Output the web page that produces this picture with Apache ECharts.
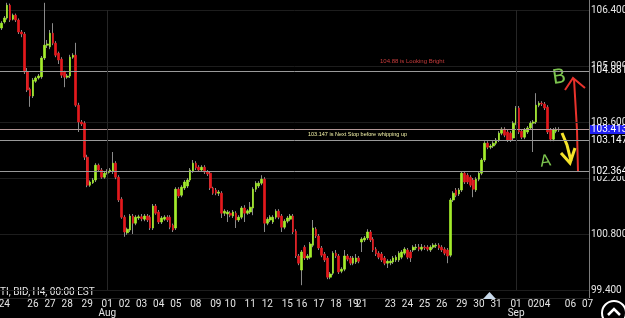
<!DOCTYPE html>
<html>
<head>
<meta charset="utf-8">
<title>H4 candles</title>
<script src="https://cdn.jsdelivr.net/npm/echarts@6/dist/echarts.min.js"></script>
<style>
html, body { margin: 0; padding: 0; background: #000; }
#chart { width: 625px; height: 318px; }
</style>
</head>
<body>
<div id="chart"></div>
<script>
// H4 bars, oldest first
var opens = [
	105.95,106.10,106.20,106.52,106.17,106.27,106.15,105.85,105.80,104.85,
	104.42,104.25,104.62,104.70,104.73,105.20,105.52,105.48,105.82,105.57,
	105.32,105.17,104.85,104.72,104.75,105.22,105.27,104.02,103.60,103.57,
	102.72,102.02,102.08,102.15,102.52,102.40,102.22,102.32,102.37,102.37,
	102.57,102.22,101.67,101.22,100.83,100.90,101.25,101.07,101.20,101.23,
	101.17,101.25,101.22,100.95,101.50,101.35,101.10,101.17,101.22,101.22,
	101.02,100.95,101.92,101.77,101.95,102.00,102.15,102.37,102.57,102.47,
	102.40,102.47,102.35,102.32,101.95,101.90,101.82,101.82,101.32,101.30,
	101.32,101.25,101.32,101.15,101.22,101.45,101.32,101.35,101.45,101.92,
	102.00,102.07,102.17,101.07,101.15,101.10,101.22,101.37,101.25,100.97,
	101.12,101.17,101.25,100.87,100.25,99.90,100.47,100.20,100.22,100.52,
	100.92,100.75,100.45,100.30,100.20,99.72,99.82,100.32,100.25,99.87,
	99.92,100.25,100.20,100.07,100.10,100.20,100.60,100.65,100.70,100.85,
	100.67,100.42,100.32,100.30,100.20,100.07,100.08,100.10,100.15,100.15,
	100.22,100.32,100.40,100.35,100.40,100.45,100.47,100.42,100.47,100.47,
	100.40,100.47,100.50,100.52,100.47,100.42,100.40,100.27,101.65,101.90,
	101.80,101.90,102.32,102.27,102.22,102.15,101.90,102.17,102.32,102.65,
	103.07,102.97,103.00,103.07,103.15,103.32,103.42,103.35,103.32,103.20,
	103.57,103.95,103.37,103.22,103.35,103.45,103.57,103.60,104.02,104.07,
	104.05,103.97,103.40,103.17,103.37,103.40
];
var closes = [
	106.07,106.20,106.52,106.15,106.27,106.15,105.85,105.80,104.85,104.40,
	104.25,104.65,104.70,104.75,105.20,105.52,105.55,105.82,105.57,105.27,
	105.15,104.77,104.72,104.75,105.22,105.27,104.02,103.60,103.55,102.72,
	102.02,102.10,102.15,102.52,102.40,102.22,102.32,102.37,102.40,102.57,
	102.22,101.65,101.22,100.85,100.92,101.25,101.07,101.22,101.23,101.18,
	101.25,101.15,100.95,101.50,101.32,101.10,101.20,101.22,101.15,100.97,
	100.90,101.92,101.75,101.97,102.10,102.15,102.40,102.57,102.45,102.40,
	102.47,102.35,102.30,101.95,101.82,101.82,101.85,101.32,101.37,101.35,
	101.27,101.35,101.15,101.22,101.45,101.32,101.38,101.47,101.92,102.07,
	102.07,102.17,101.07,101.17,101.22,101.22,101.37,101.22,100.97,101.12,
	101.20,101.25,100.85,100.25,100.07,100.35,100.20,100.25,100.55,100.95,
	100.75,100.45,100.27,100.15,99.72,99.80,100.32,100.25,99.85,99.92,
	100.25,100.17,100.07,100.20,100.20,100.12,100.67,100.70,100.85,100.65,
	100.40,100.30,100.22,100.15,100.07,100.12,100.12,100.20,100.22,100.32,
	100.35,100.42,100.22,100.20,100.47,100.47,100.42,100.47,100.45,100.42,
	100.47,100.52,100.52,100.45,100.40,100.32,100.25,101.65,101.82,101.77,
	101.90,102.32,102.10,102.10,102.02,101.92,102.17,102.32,102.65,103.07,
	102.97,103.00,103.07,103.15,103.32,103.42,103.27,103.15,103.15,103.57,
	103.95,103.35,103.22,103.40,103.45,103.57,103.60,104.02,104.07,104.05,
	103.95,103.35,103.17,103.40,103.42,103.413
];
var lows = [
	105.90,106.06,106.16,106.10,106.14,106.10,105.80,105.72,104.80,104.35,
	103.98,104.20,104.58,104.66,104.68,105.15,105.45,105.42,105.52,105.22,
	105.05,104.70,104.47,104.68,104.70,105.18,103.98,103.35,103.50,102.65,
	101.97,101.98,102.05,102.10,102.35,102.18,102.18,102.28,102.33,102.30,
	102.17,101.60,101.18,100.73,100.78,100.85,100.80,101.02,101.15,101.12,
	101.12,101.10,100.90,100.90,101.28,101.05,101.05,101.13,101.10,100.92,
	100.85,100.90,101.70,101.72,101.90,101.95,102.10,102.33,102.40,102.35,
	102.36,102.30,102.25,101.90,101.78,101.77,101.75,101.20,101.25,101.10,
	101.22,101.20,100.95,101.10,101.17,101.10,101.28,101.30,101.27,101.85,
	101.95,102.02,100.85,101.02,101.10,101.05,101.17,101.17,100.85,100.92,
	101.07,101.12,100.80,100.20,100.02,99.52,100.15,100.15,100.17,100.47,
	100.70,100.40,100.22,100.10,99.67,99.67,99.77,100.20,99.80,99.82,
	99.87,100.12,100.02,100.02,100.05,100.07,100.35,100.60,100.65,100.60,
	100.35,100.25,100.17,100.10,100.02,99.95,100.02,100.05,100.10,100.10,
	100.17,100.27,100.17,100.10,100.35,100.40,100.37,100.37,100.40,100.37,
	100.35,100.42,100.45,100.40,100.35,100.27,100.07,100.22,101.60,101.72,
	101.75,101.85,102.05,102.05,101.97,101.72,101.85,102.12,102.27,102.60,
	102.92,102.92,102.95,103.02,103.10,103.27,103.22,103.10,103.10,103.15,
	103.52,103.30,103.17,103.17,103.30,103.40,102.85,103.55,103.97,104.00,
	103.90,103.30,103.12,103.12,103.32,103.35
];
var highs = [
	106.12,106.25,106.58,106.56,106.31,106.31,106.19,105.90,105.85,104.95,
	104.46,104.70,104.74,104.80,105.25,106.58,105.65,105.90,106.07,105.62,
	105.36,105.22,104.88,104.80,105.28,105.32,105.58,104.08,103.65,103.62,
	102.78,102.14,102.20,102.57,102.56,102.45,102.36,102.42,102.45,102.85,
	102.62,102.27,101.72,101.27,100.96,101.30,101.30,101.27,101.28,101.30,
	101.30,101.30,101.27,101.55,101.55,101.40,101.25,101.27,101.27,101.27,
	101.06,101.97,101.97,102.02,102.15,102.20,102.45,102.65,102.62,102.52,
	102.52,102.52,102.40,102.37,101.98,101.95,101.90,101.87,101.42,101.40,
	101.37,101.40,101.37,101.27,101.50,101.52,101.42,101.60,101.97,102.12,
	102.12,102.27,102.22,101.22,101.27,101.27,101.42,101.42,101.30,101.17,
	101.25,101.30,101.30,100.92,100.30,100.40,100.52,100.30,100.60,101.15,
	100.97,100.80,100.50,100.35,100.25,99.85,100.37,100.40,100.30,99.97,
	100.40,100.30,100.25,100.25,100.30,100.25,100.72,100.75,100.92,100.90,
	100.72,100.47,100.37,100.35,100.25,100.17,100.17,100.25,100.27,100.37,
	100.40,100.47,100.45,100.40,100.52,100.55,100.55,100.55,100.52,100.52,
	100.52,100.57,100.57,100.57,100.52,100.47,100.45,101.70,101.87,101.95,
	101.95,102.37,102.37,102.32,102.27,102.20,102.22,102.37,102.70,103.12,
	103.12,103.05,103.12,103.20,103.37,103.47,103.47,103.40,103.37,103.62,
	104.00,104.00,103.42,103.45,103.50,103.62,103.65,104.32,104.12,104.12,
	104.10,104.02,103.45,103.45,103.47,103.47
];

// empty bar slots on the right side (chart shift)
var futureBars = 10;

// day labels under the chart: bar index -> text
var tickIndex = [1, 11, 17, 23, 30, 37, 43, 49, 55, 61, 68, 75, 80, 87, 93, 100, 105, 111, 117, 123, 126,
	136, 142, 148, 154, 161, 167, 173, 180, 186, 190, 199, 205];
var tickText = ['24', '26', '27', '28', '29', '01\nAug', '02', '03', '04', '05', '08', '09', '10', '11', '12', '15', '16', '17', '18', '19', '21',
	'23', '24', '25', '26', '29', '30', '31', '01\nSep', '02', '04', '06', '07'];

// price scale
var yMin = 99.4, yMax = 106.4, yStep = 1.4;

// horizontal levels: 104.881, bid, 103.147, 102.364
var levelValues = [104.881, 103.413, 103.147, 102.364];
var monthStarts = [37, 180];

var green = '#a3ec2b', red = '#e3191c', wickGrey = '#8a8a8a';

var total = opens.length + futureBars;
var categories = [];
for (var i = 0; i < total; i++) {
	categories.push(String(i));
}
var labelAt = {};
for (var k = 0; k < tickIndex.length; k++) {
	labelAt[tickIndex[k]] = tickText[k];
}

// grey wicks underneath, coloured bodies on top
var wickData = [], bodyData = [];
for (var j = 0; j < opens.length; j++) {
	wickData.push([opens[j], closes[j], lows[j], highs[j]]);
	bodyData.push([opens[j], closes[j], Math.min(opens[j], closes[j]), Math.max(opens[j], closes[j])]);
}

function levelItem(v, lineColor, bg) {
	return {
		yAxis: v,
		lineStyle: { color: lineColor, width: 1, type: 'solid' },
		label: {
			show: true,
			position: 'end',
			distance: 1,
			formatter: function (p) { return v.toFixed(3); },
			color: '#ffffff',
			fontSize: 10,
			fontFamily: 'Roboto',
			lineHeight: 9,
			backgroundColor: bg,
			padding: [0, 1, 0, 1]
		}
	};
}

var markData = [
	levelItem(levelValues[0], '#9a9a9a', '#000'),
	levelItem(levelValues[1], '#b39797', '#1f1ff2'),
	levelItem(levelValues[2], '#9a9a9a', '#000'),
	levelItem(levelValues[3], '#9a9a9a', '#000')
];
for (var m = 0; m < monthStarts.length; m++) {
	markData.push({
		xAxis: categories[monthStarts[m]],
		lineStyle: { color: '#262626', width: 1, type: 'solid' },
		label: { show: false }
	});
}

var container = echarts.init(document.getElementById('chart'), null, { renderer: 'canvas' });
container.setOption({
	backgroundColor: '#000',
	animation: false,
	grid: {
		left: 0,
		right: 36,
		top: 10,
		bottom: 28,
		containLabel: false,
		outerBoundsMode: 'none'
	},
	xAxis: {
		type: 'category',
		data: categories,
		boundaryGap: true,
		axisLine: { show: false },
		axisTick: { show: false },
		splitLine: { show: false },
		axisLabel: {
			interval: 0,
			hideOverlap: false,
			margin: 10,
			color: '#e6e6e6',
			fontSize: 10,
			lineHeight: 9,
			fontFamily: 'Roboto',
			formatter: function (v, idx) { return labelAt[idx] || ''; }
		}
	},
	yAxis: {
		type: 'value',
		position: 'right',
		min: yMin,
		max: yMax,
		interval: yStep,
		scale: true,
		axisLine: { show: false },
		axisTick: { show: false },
		splitLine: { show: true, lineStyle: { color: '#1d1d1d', width: 1 } },
		axisLabel: {
			margin: 2,
			color: '#e6e6e6',
			fontSize: 10,
			fontFamily: 'Roboto',
			hideOverlap: false,
			formatter: function (v) { return v.toFixed(3); }
		}
	},
	series: [{
		name: 'wick',
		type: 'candlestick',
		data: wickData,
		barWidth: 1,
		clip: false,
		silent: true,
		itemStyle: {
			color: wickGrey, color0: wickGrey,
			borderColor: wickGrey, borderColor0: wickGrey, borderColorDoji: wickGrey,
			borderWidth: 1
		},
		markLine: {
			silent: true,
			symbol: ['none', 'none'],
			precision: 3,
			animation: false,
			data: markData
		}
	}, {
		name: 'body',
		type: 'candlestick',
		data: bodyData,
		barWidth: 2.2,
		clip: false,
		silent: true,
		itemStyle: {
			color: green, color0: red,
			borderColor: green, borderColor0: red, borderColorDoji: green,
			borderWidth: 0.7
		}
	}],
	graphic: [
		// right price-axis border and bottom edge
		{ type: 'line', shape: { x1: 589.5, y1: 0, x2: 589.5, y2: 298 }, style: { stroke: '#7c7c7c', lineWidth: 1 } },
		{ type: 'line', shape: { x1: 0, y1: 298.5, x2: 589, y2: 298.5 }, style: { stroke: '#222', lineWidth: 1 } },
		// text objects on the chart
		{ type: 'text', left: 380, top: 58, style: { text: '104.88 is Looking Bright', fill: '#c83c3c', fontSize: 6, fontFamily: 'Liberation Sans' } },
		{ type: 'text', left: 308, top: 131, style: { text: '103.147 is Next Stop before whipping up', fill: '#f2f2a8', fontSize: 5.5, fontFamily: 'Liberation Sans' } },
		{ type: 'text', left: 0, top: 287, style: { text: 'TI, BID, H4, 00:00 EST', fill: '#e6e6e6', fontSize: 10, fontFamily: 'Roboto' } },
		// hand drawn marks
		{ type: 'polyline', shape: { points: [[578, 172], [577, 130], [574, 79]] }, style: { stroke: '#e8322c', lineWidth: 2, fill: null } },
		{ type: 'polyline', shape: { points: [[565, 90], [573, 78], [585, 88]] }, style: { stroke: '#e8322c', lineWidth: 2, fill: null } },
		{ type: 'polyline', shape: { points: [[562, 133], [567, 145], [571, 161]] }, style: { stroke: '#f4e32a', lineWidth: 3, fill: null } },
		{ type: 'polyline', shape: { points: [[561, 153], [570, 163], [575, 148]] }, style: { stroke: '#f4e32a', lineWidth: 3, fill: null } },
		{ type: 'text', left: 551, top: 67, rotation: 0.15, style: { text: 'B', fill: '#7cc44e', fontSize: 20, fontFamily: 'DejaVu Sans' } },
		{ type: 'text', left: 539, top: 153, rotation: 0.15, style: { text: 'A', fill: '#7cc44e', fontSize: 16, fontFamily: 'DejaVu Sans' } },
		// scroll marker and button
		{ type: 'polygon', shape: { points: [[483, 299], [489.5, 292], [496, 299]] }, style: { fill: '#c9d9ea' } },
		{ type: 'circle', shape: { cx: 614, cy: 313, r: 12 }, style: { stroke: '#ffffff', fill: null, lineWidth: 2 } },
		{ type: 'polyline', shape: { points: [[608, 315], [614, 309], [620, 315]] }, style: { stroke: '#ffffff', lineWidth: 2.5, fill: null } }
	]
});
</script>
</body>
</html>
